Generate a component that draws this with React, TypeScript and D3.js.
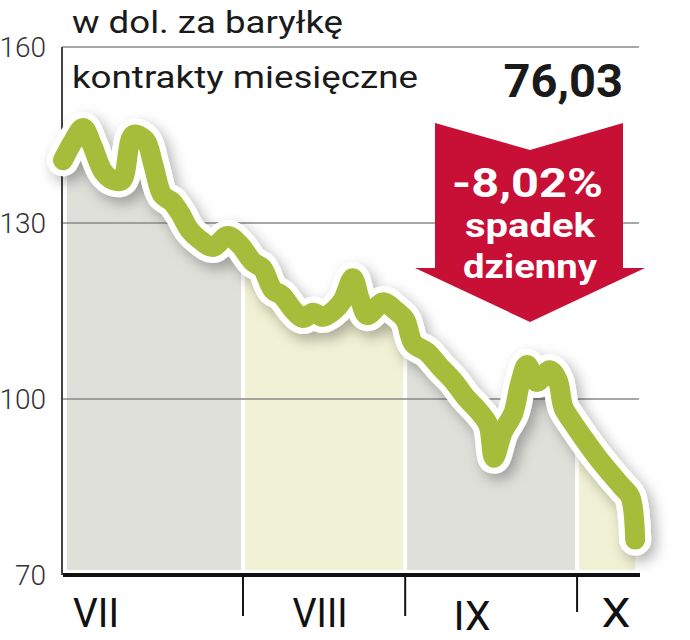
import React from 'react';
import * as d3 from 'd3';

// ---- data ----
const days = [0, 1.2, 2.5, 3.6, 5, 6.2, 7.3, 8.7, 10.2, 11.2, 12.3, 13.5, 14.5, 15.7, 17, 18.6, 20.4, 21.9, 23.5, 24.7, 26, 27.1, 28.5, 29.7, 31, 32.2, 33.5, 34.7, 35.9, 36.8, 37.7, 39.7, 41.1, 42.4, 43.4, 45.1, 46.7, 48.3, 49.9, 51.4, 52.7, 53.4, 54.5, 55.8, 56.6, 57.5, 58.7, 60.3, 61.3, 62, 63.1, 64.4, 66.2, 67.8, 69.3, 70.3, 70.9];
const prices = [140.7, 143.8, 146.2, 143.3, 138.7, 137.3, 137.3, 145.0, 144.1, 139.9, 134.8, 133.6, 131.7, 128.8, 127.1, 125.9, 127.8, 126.3, 123.4, 122.3, 118.6, 117.7, 115.2, 113.8, 114.7, 114.0, 115.0, 116.9, 120.6, 116.9, 114.3, 116.5, 115.2, 113.5, 109.5, 108.0, 105.5, 103.2, 100.3, 98.1, 95.6, 90.0, 94.4, 97.6, 102.4, 105.8, 102.9, 104.9, 103.2, 98.6, 96.1, 93.5, 90.1, 87.4, 85.0, 83.3, 76.03];
const monthLabels = ['VII', 'VIII', 'IX', 'X'];
const monthBreaks = [22.3, 42.4, 63.7];
const yTicks = [70, 100, 130, 160];
const titleLine1 = 'w dol. za baryłkę';
const titleLine2 = 'kontrakty miesięczne';
const lastValue = '76,03';
const changeText = '-8,02%';
const changeLine2 = 'spadek';
const changeLine3 = 'dzienny';

// ---- layout ----
const W = 690;
const H = 640;
const monthLabelX = [96, 320, 472, 616];
const monthLabelY = [627, 627, 630, 627];
const monthLabelW = [46, 55, 37, 29];
const monthColors = ['#dfe0da', '#f1f1d5', '#dfe0da', '#f1f1d5'];

export default function App() {
  const x = d3.scaleLinear().domain([0, 71]).range([63, 636]);
  const y = d3.scaleLinear().domain([70, 160]).range([575, 47]);
  const pts = days.map((d, i) => ({ day: d, price: prices[i] }));

  const line = d3
    .line<{ day: number; price: number }>()
    .x((d) => x(d.day))
    .y((d) => y(d.price))
    .curve(d3.curveCatmullRom.alpha(0.5));
  const area = d3
    .area<{ day: number; price: number }>()
    .x((d) => x(d.day))
    .y0(570)
    .y1((d) => y(d.price))
    .curve(d3.curveCatmullRom.alpha(0.5));

  const bounds = [67, ...monthBreaks.map((b) => x(b)), x(days[days.length - 1]) + 10];
  const gap = 2;

  const arrowPath = 'M435,123 L530,150 L623,123 L623,268 L645,268 L530,322 L415,268 L435,268 Z';

  return (
    <svg width={W} height={H} style={{ display: 'block', position: 'absolute', left: 0, top: 0 }} fontFamily="Roboto, sans-serif">
      <defs>
        <clipPath id="areaClip">
          <path d={area(pts) || ''} />
        </clipPath>
        <filter id="shadow" x="-20%" y="-20%" width="140%" height="140%">
          <feDropShadow dx="5" dy="6" stdDeviation="7" floodColor="#000" floodOpacity="0.3" />
        </filter>
      </defs>
      <rect x={0} y={0} width={W} height={H} fill="#fff" />

      {/* month fills under the line */}
      <g clipPath="url(#areaClip)">
        {monthLabels.map((m, i) => (
          <rect
            key={m}
            x={bounds[i] + (i === 0 ? 0 : gap)}
            y={40}
            width={bounds[i + 1] - bounds[i] - (i === 0 ? gap : 2 * gap)}
            height={540}
            fill={monthColors[i]}
          />
        ))}
      </g>

      {/* gridlines */}
      {yTicks.slice(1).map((t) => (
        <line key={t} x1={62} x2={639} y1={y(t)} y2={y(t)} stroke="#8a8a8a" strokeWidth={1.5} />
      ))}

      {/* left axis */}
      <line x1={62} x2={62} y1={y(160)} y2={y(70)} stroke="#444" strokeWidth={2} />
      {/* bottom axis */}
      <line x1={63} x2={640} y1={y(70)} y2={y(70)} stroke="#111" strokeWidth={4} />
      {monthBreaks.map((b, i) => (
        <line key={b} x1={x(b)} x2={x(b)} y1={577} y2={i === 2 ? 612 : 616} stroke="#111" strokeWidth={2} />
      ))}

      {/* y tick labels */}
      {yTicks.map((t) => (
        <text key={t} x={46} y={y(t) + 10} textAnchor="end" fontSize={28} fontWeight={300} fill="#333">
          {t}
        </text>
      ))}

      {/* month labels */}
      {monthLabels.map((m, i) => (
        <text
          key={m}
          x={monthLabelX[i] - monthLabelW[i] / 2}
          y={monthLabelY[i]}
          fontSize={41}
          fill="#111"
          textLength={monthLabelW[i]}
          lengthAdjust="spacingAndGlyphs"
        >
          {m}
        </text>
      ))}

      {/* line */}
      <path d={line(pts) || ''} fill="none" stroke="#fff" strokeWidth={32} strokeLinejoin="round" strokeLinecap="round" filter="url(#shadow)" />
      <path d={line(pts) || ''} fill="none" stroke="#a6bd3c" strokeWidth={20} strokeLinejoin="round" strokeLinecap="round" />

      {/* titles */}
      <text x={72} y={33} fontSize={32} fill="#1a1a1a" textLength={271} lengthAdjust="spacingAndGlyphs">
        {titleLine1}
      </text>
      <text x={72} y={88} fontSize={32} fill="#1a1a1a" textLength={346} lengthAdjust="spacingAndGlyphs">
        {titleLine2}
      </text>
      <text x={623} y={97} textAnchor="end" fontSize={47} fontWeight={700} fill="#1a1a1a">
        {lastValue}
      </text>

      {/* arrow */}
      <path d={arrowPath} fill="#c80f35" />
      <text x={452} y={197} fontSize={40} fontWeight={700} fill="#fff" textLength={151} lengthAdjust="spacingAndGlyphs">
        {changeText}
      </text>
      <text x={465} y={237} fontSize={33} fontWeight={700} fill="#fff" textLength={130} lengthAdjust="spacingAndGlyphs">
        {changeLine2}
      </text>
      <text x={463} y={278} fontSize={33} fontWeight={700} fill="#fff" textLength={134} lengthAdjust="spacingAndGlyphs">
        {changeLine3}
      </text>
    </svg>
  );
}
